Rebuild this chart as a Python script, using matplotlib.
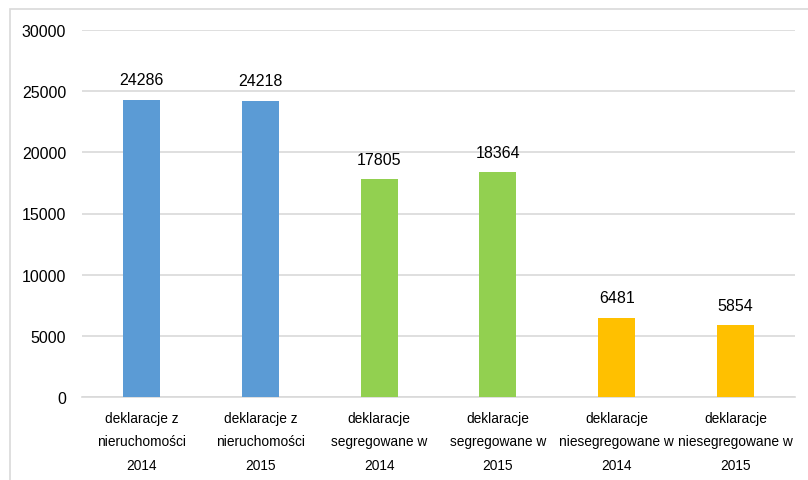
import matplotlib
matplotlib.use("Agg")
import matplotlib.pyplot as plt
from matplotlib.patches import Rectangle

categories = [
    "deklaracje z\nnieruchomości\n2014",
    "deklaracje z\nnieruchomości\n2015",
    "deklaracje\nsegregowane w\n2014",
    "deklaracje\nsegregowane w\n2015",
    "deklaracje\nniesegregowane w\n2014",
    "deklaracje\nniesegregowane w\n2015",
]
values = [24286, 24218, 17805, 18364, 6481, 5854]
colors = ["#5B9BD5", "#5B9BD5", "#92D050", "#92D050", "#FFC000", "#FFC000"]
yticks = [0, 5000, 10000, 15000, 20000, 25000, 30000]

plt.rcParams['font.family'] = ['Liberation Sans', 'DejaVu Sans']

W, H = 808, 481
fig = plt.figure(figsize=(W / 100, H / 100), dpi=100)
ax = fig.add_axes([82 / W, 1 - 398 / H, (795 - 82) / W, (398 - 31) / H])

x = list(range(len(categories)))
bars = ax.bar(x, values, width=0.31, color=colors, zorder=3)
for xi, v in zip(x, values):
    ax.annotate(str(v), (xi, v), xytext=(0, 9), textcoords='offset points',
                ha='center', va='bottom', fontsize=11.5, color='#000000')

ax.set_xlim(-0.5, len(categories) - 0.5)
ax.set_ylim(0, 30000)
ax.set_yticks(yticks)
ax.set_yticklabels([str(t) for t in yticks], fontsize=11.5)
ax.set_xticks(x)
ax.set_xticklabels(categories, fontsize=9.9, linespacing=1.85)
ax.tick_params(axis='both', length=0, colors='#000000')
ax.tick_params(axis='y', pad=11.5)
ax.tick_params(axis='x', pad=10)
ax.grid(axis='y', color='#d9d9d9', linewidth=1.2, zorder=0)
for s in ['top', 'right', 'left']:
    ax.spines[s].set_visible(False)
ax.spines['bottom'].set_color('#d9d9d9')
ax.spines['bottom'].set_linewidth(1.2)

fig.patches.append(Rectangle((9.5, -20), W + 40, H - 9.5 + 20, transform=None,
                             fill=False, edgecolor='#d9d9d9', linewidth=1.2))

fig.savefig("out.png", dpi=100)
